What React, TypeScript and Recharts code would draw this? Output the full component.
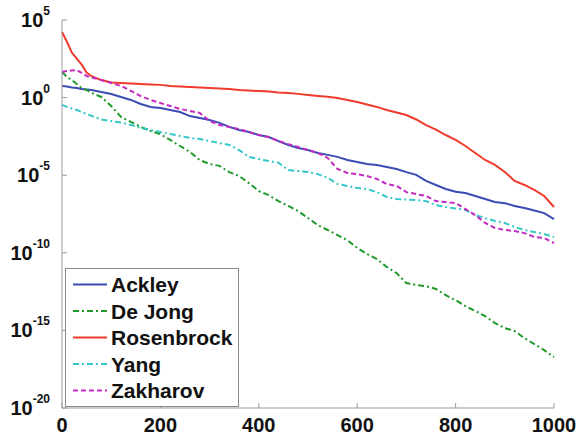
import { LineChart, Line, XAxis, YAxis, Legend } from 'recharts'

// iteration numbers (x) and log10 of the best value for each benchmark
const iterations = [
  0, 10, 20, 30, 40, 50, 60, 80, 100, 120, 140, 160, 180, 200, 220, 240, 260, 280, 300, 320, 340, 360, 380, 400,
  420, 440, 460, 480, 500, 520, 540, 560, 580, 600, 620, 640, 660, 680, 700, 720, 740, 760, 780, 800, 820, 840,
  860, 880, 900, 920, 940, 960, 980, 1000,
]

const ackleyExp = [
  0.75, 0.72, 0.65, 0.62, 0.55, 0.52, 0.49, 0.36, 0.23, 0.04, -0.15, -0.41, -0.61, -0.67, -0.8, -0.93, -1.19, -1.31,
  -1.44, -1.63, -1.89, -2.09, -2.22, -2.41, -2.54, -2.8, -3.05, -3.25, -3.38, -3.57, -3.69, -3.82, -4.02, -4.15,
  -4.28, -4.34, -4.47, -4.6, -4.8, -4.98, -5.37, -5.63, -5.89, -6.06, -6.15, -6.34, -6.53, -6.73, -6.8, -6.98,
  -7.11, -7.28, -7.44, -7.83,
]

const deJongExp = [
  1.65, 1.33, 1.13, 0.88, 0.62, 0.49, 0.3, 0.04, -0.54, -1.25, -1.57, -1.89, -2.15, -2.35, -2.73, -3.12, -3.5,
  -4.02, -4.28, -4.4, -4.8, -5.05, -5.51, -6.02, -6.28, -6.67, -6.98, -7.31, -7.76, -8.22, -8.53, -8.86, -9.18,
  -9.69, -10.08, -10.4, -10.91, -11.31, -11.95, -12.07, -12.15, -12.33, -12.73, -13.05, -13.44, -13.75, -14.08,
  -14.53, -14.85, -15.04, -15.5, -15.88, -16.27, -16.72,
]

const rosenbrockExp = [
  4.23, 3.6, 2.9, 2.51, 2.12, 1.62, 1.38, 1.13, 0.97, 0.94, 0.91, 0.88, 0.85, 0.82, 0.75, 0.72, 0.69, 0.65, 0.62,
  0.59, 0.56, 0.49, 0.46, 0.42, 0.39, 0.33, 0.29, 0.24, 0.17, 0.11, 0.05, -0.02, -0.15, -0.29, -0.44, -0.6, -0.8,
  -0.96, -1.12, -1.41, -1.77, -2.06, -2.41, -2.73, -3.12, -3.57, -4.02, -4.34, -4.79, -5.37, -5.63, -5.95, -6.34,
  -7.05,
]

const yangExp = [
  -0.47, -0.6, -0.7, -0.8, -0.93, -1.05, -1.18, -1.41, -1.51, -1.61, -1.76, -1.96, -2.09, -2.22, -2.35, -2.47,
  -2.6, -2.67, -2.8, -2.93, -3.05, -3.38, -3.82, -3.96, -4.09, -4.19, -4.67, -4.73, -4.8, -4.93, -5.17, -5.57,
  -5.69, -5.82, -5.89, -6.09, -6.4, -6.53, -6.57, -6.6, -6.67, -6.93, -7.05, -7.14, -7.24, -7.57, -7.76, -7.95,
  -8.08, -8.34, -8.53, -8.66, -8.79, -8.98,
]

const zakharovExp = [
  1.65, 1.71, 1.75, 1.78, 1.59, 1.39, 1.3, 1.13, 0.94, 0.75, 0.43, 0.1, -0.15, -0.35, -0.54, -0.73, -0.86, -0.99,
  -1.51, -1.77, -1.89, -2.02, -2.22, -2.41, -2.54, -2.8, -3.0, -3.18, -3.38, -3.57, -3.89, -4.6, -4.86, -4.93,
  -5.05, -5.24, -5.57, -5.69, -6.09, -6.22, -6.34, -6.67, -6.73, -6.8, -7.18, -7.57, -8.08, -8.4, -8.53, -8.6,
  -8.73, -8.98, -9.05, -9.37,
]

const xTicks = [0, 200, 400, 600, 800, 1000]
const yTicks = [1e-20, 1e-15, 1e-10, 1e-5, 1, 1e5]

const series = [
  { key: 'ackley', name: 'Ackley', color: '#3a4cb4', dash: undefined },
  { key: 'deJong', name: 'De Jong', color: '#1f9a2a', dash: '6 3 2 3' },
  { key: 'rosenbrock', name: 'Rosenbrock', color: '#f03a2c', dash: undefined },
  { key: 'yang', name: 'Yang', color: '#35c6c8', dash: '6 3 2 3' },
  { key: 'zakharov', name: 'Zakharov', color: '#c42bc0', dash: '5 3' },
]

const data = iterations.map((x, i) => ({
  x,
  ackley: 10 ** ackleyExp[i],
  deJong: 10 ** deJongExp[i],
  rosenbrock: 10 ** rosenbrockExp[i],
  yang: 10 ** yangExp[i],
  zakharov: 10 ** zakharovExp[i],
}))

const font = '"Liberation Sans", Arial, sans-serif'
const axisGray = '#9a9a9a'

const XTick = ({ x, y, payload }: any) => (
  <text x={x} y={y + 24} textAnchor="middle" fontFamily={font} fontWeight="bold" fontSize={20} fill="#111">
    {payload.value}
  </text>
)

const YTick = ({ x, y, payload }: any) => {
  const exp = Math.round(Math.log10(payload.value))
  return (
    <text x={x} y={y + 7} textAnchor="end" fontFamily={font} fontWeight="bold" fontSize={20} fill="#111">
      10
      <tspan dy={-12} fontSize={12}>
        {exp}
      </tspan>
    </text>
  )
}

const NoTick = () => <g />

const LegendBox = () => (
  <svg width={175} height={140} style={{ display: 'block' }}>
    <rect x={0.5} y={0.5} width={173} height={138} fill="#fff" stroke="#8a8a8a" strokeWidth={1} />
    {series.map((s, i) => {
      const cy = 16.5 + i * 26.5
      return (
        <g key={s.key}>
          <line x1={8} x2={42} y1={cy} y2={cy} stroke={s.color} strokeWidth={2} strokeDasharray={s.dash} />
          <text x={46} y={cy + 7.5} fontFamily={font} fontWeight="bold" fontSize={21} fill="#111">
            {s.name}
          </text>
        </g>
      )
    })}
  </svg>
)

export default function App() {
  return (
    <div style={{ position: 'absolute', left: 0, top: 0, background: '#fff' }}>
      <LineChart width={582} height={438} data={data} margin={{ top: 20, right: 28, bottom: 0, left: 0 }}>
        <XAxis
          dataKey="x"
          type="number"
          domain={[0, 1000]}
          ticks={xTicks}
          height={30}
          stroke={axisGray}
          tickSize={-5}
          tickMargin={5}
          tick={XTick}
        />
        <XAxis
          xAxisId="top"
          orientation="top"
          dataKey="x"
          type="number"
          domain={[0, 1000]}
          ticks={xTicks}
          height={0}
          stroke={axisGray}
          tickSize={-5}
          tick={NoTick}
        />
        <YAxis
          type="number"
          scale="log"
          domain={[1e-20, 1e5]}
          allowDataOverflow
          ticks={yTicks}
          width={62}
          stroke={axisGray}
          tickSize={-5}
          tickMargin={17}
          tick={YTick}
        />
        <YAxis
          yAxisId="right"
          orientation="right"
          type="number"
          scale="log"
          domain={[1e-20, 1e5]}
          allowDataOverflow
          ticks={yTicks}
          width={0}
          stroke={axisGray}
          tickSize={-5}
          tick={NoTick}
        />
        {series.map((s) => (
          <Line
            key={s.key}
            dataKey={s.key}
            name={s.name}
            type="linear"
            stroke={s.color}
            strokeWidth={2}
            strokeDasharray={s.dash}
            dot={false}
            isAnimationActive={false}
          />
        ))}
        <Legend
          layout="vertical"
          align="center"
          verticalAlign="middle"
          content={LegendBox}
          wrapperStyle={{ position: 'absolute', left: 65, top: 268, width: 175, height: 140 }}
        />
      </LineChart>
    </div>
  )
}
